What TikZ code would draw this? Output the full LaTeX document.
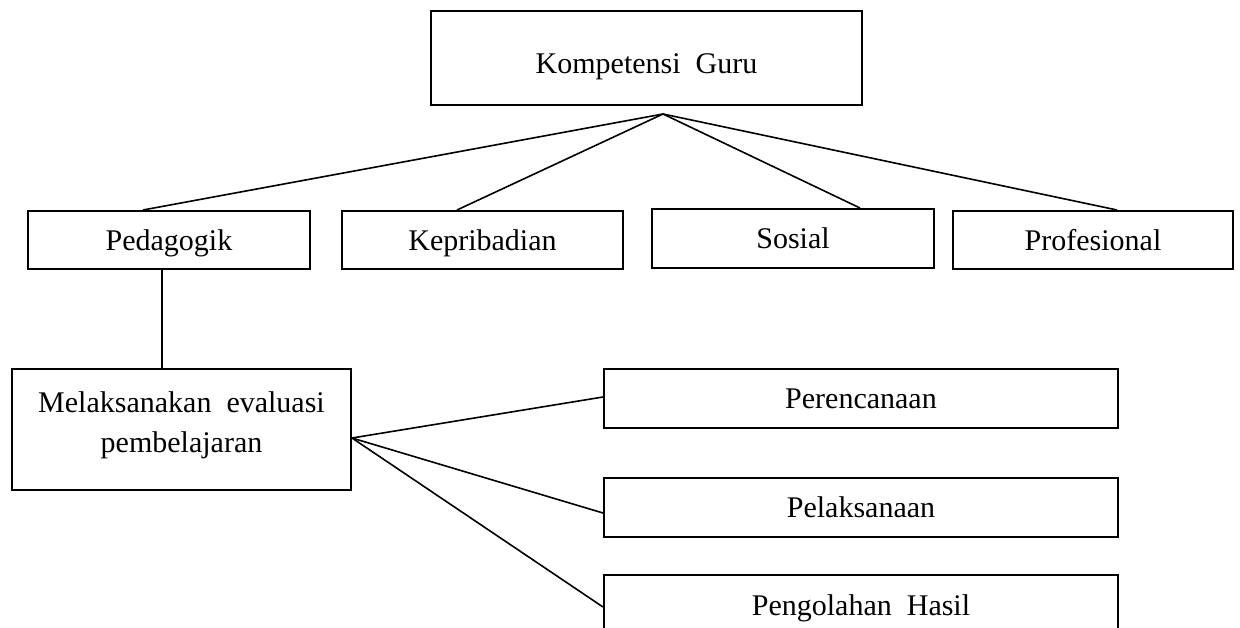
\documentclass[tikz,border=0pt]{standalone}
\usepackage{fontspec}
\setmainfont{Liberation Serif}
\usetikzlibrary{calc}
\begin{document}
\begin{tikzpicture}[x=1pt,y=-1pt,
  box/.style={draw=black,line width=2pt,inner sep=0pt,align=center,
    font=\fontsize{30}{40}\selectfont,text height=20pt,text depth=0pt},
  conn/.style={draw=black,line width=1.6pt}]
\useasboundingbox (0,0) rectangle (1240,627);
% top
\node[box,minimum width=431,minimum height=94,text height=30pt] (top) at (646.5,58) {Kompetensi~ Guru};
% row 2
\node[box,minimum width=282,minimum height=58] (ped) at (169,240) {Pedagogik};
\node[box,minimum width=281,minimum height=58] (kep) at (482.5,240) {Kepribadian};
\node[box,minimum width=282,minimum height=59] (sos) at (793,238.5) {Sosial};
\node[box,minimum width=280,minimum height=58] (pro) at (1093,240) {Profesional};
% lower
\node[box,minimum width=339,minimum height=121,text height={},text depth={}] (mel) at (181.5,429.5) {Melaksanakan~ evaluasi\\pembelajaran\rule[-14pt]{0pt}{0pt}};
\node[box,minimum width=514,minimum height=59] (per) at (861,398.5) {Perencanaan};
\node[box,minimum width=514,minimum height=59] (pel) at (861,507.5) {Pelaksanaan};
\node[box,minimum width=514,minimum height=60] (pen) at (861,605) {Pengolahan~ Hasil};
% connectors
\coordinate (apex) at ($(top.south)+(16.5,8)$);
\draw[conn] (apex) -- ($(ped.north)+(-26,0)$);
\draw[conn] (apex) -- ($(kep.north)+(-25.5,0)$);
\draw[conn] (apex) -- ($(sos.north)+(67,0)$);
\draw[conn] (apex) -- ($(pro.north)+(24,0)$);
\coordinate (v) at ($(ped.south)+(-7,0)$);
\draw[conn] (v) -- (v |- mel.north);
\coordinate (mo) at ($(mel.east)+(0,8.5)$);
\draw[conn] (mo) -- ($(per.west)+(0,-1.5)$);
\draw[conn] (mo) -- ($(pel.west)+(0,5.5)$);
\draw[conn] (mo) -- ($(pen.west)+(0,2)$);
\end{tikzpicture}
\end{document}
